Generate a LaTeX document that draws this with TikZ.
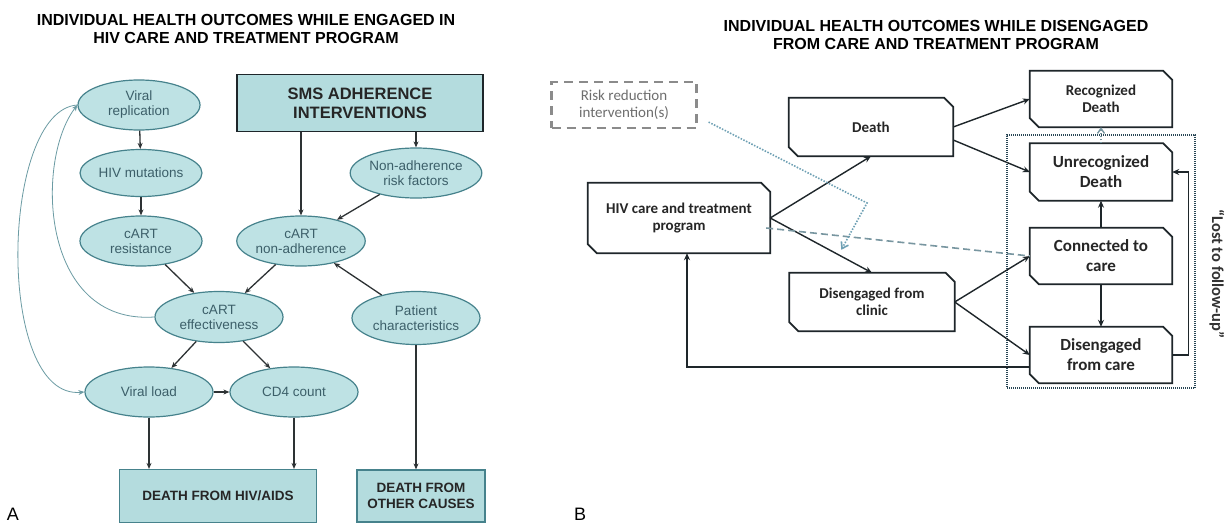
\documentclass[tikz,border=0pt]{standalone}
\usepackage{fontspec}
\setmainfont{Liberation Sans}
\newfontfamily\calfont{Carlito}
\usetikzlibrary{shapes.geometric,arrows.meta,calc}
\definecolor{tealfill}{RGB}{190,226,228}
\definecolor{boxfill}{RGB}{180,220,222}
\definecolor{tealline}{RGB}{70,130,140}
\definecolor{ellitext}{RGB}{60,95,105}
\definecolor{arrA}{RGB}{45,50,52}
\definecolor{bline}{RGB}{30,38,42}
\definecolor{dashc}{RGB}{120,150,160}
\definecolor{dotc}{RGB}{110,160,180}
\definecolor{frame}{RGB}{40,70,85}
\definecolor{riskc}{RGB}{110,110,110}
\newcommand\chamf[1]{\draw[bl] (#1.north west) -- ($(#1.north east)+(-9,0)$) -- ($(#1.north east)+(0,9)$) -- (#1.south east) -- ($(#1.south west)+(9,0)$) -- ($(#1.south west)+(0,-9)$) -- cycle;}
\tikzset{
  ell/.style={ellipse, draw=tealline, fill=tealfill, line width=1.2pt, minimum width=128pt, minimum height=50pt, inner sep=0pt, align=center, text=ellitext, font=\fontsize{13.5}{15}\selectfont},
  abox/.style={rectangle, fill=boxfill, draw=tealline, line width=1.2pt, align=center, inner sep=0pt, text=black!85, font=\bfseries\fontsize{13.5}{16}\selectfont},
  aarr/.style={draw=arrA, line width=1.3pt, -{Stealth[length=6pt,width=5pt]}},
  curv/.style={draw=tealline!80, line width=0.8pt, -{Stealth[length=6pt,width=5pt]}},
  bnode/.style={rectangle, inner sep=0pt, align=center, text=black!85, font=\calfont\bfseries\fontsize{15}{17}\selectfont},
  bignode/.style={bnode, font=\calfont\bfseries\fontsize{17}{20}\selectfont},
  bl/.style={draw=bline, line width=1.8pt, line join=miter},
  barr/.style={draw=bline, line width=1.4pt, -{Stealth[length=7pt,width=6pt]}},
  titl/.style={align=center, font=\bfseries\fontsize{16}{18.5}\selectfont},
}
\begin{document}
\begin{tikzpicture}[x=1pt,y=-1pt]
\useasboundingbox[fill=white] (0,0) rectangle (1226,527);

% ---------- Panel A ----------
\node[titl] (tA) at (246,29) {INDIVIDUAL HEALTH OUTCOMES WHILE ENGAGED IN\\HIV CARE AND TREATMENT PROGRAM};

\node[ell, minimum width=122pt] (vr) at (139,105) {Viral\\replication};
\node[ell, minimum width=122pt, minimum height=47pt] (hm) at (141,173) {HIV mutations};
\node[ell, minimum width=122pt] (cr) at (141,241) {cART\\resistance};
\node[abox, draw=bline, line width=1.8pt, minimum width=246pt, minimum height=57pt, font=\bfseries\fontsize{16.5}{19}\selectfont] (sms) at (360,103) {SMS ADHERENCE\\INTERVENTIONS};
\node[ell] (na) at (416,173) {Non-adherence\\risk factors};
\node[ell] (cna) at (301,241) {cART\\non-adherence};
\node[ell, minimum height=51pt] (ce) at (219,317) {cART\\effectiveness};
\node[ell, minimum height=53pt] (pc) at (416,318) {Patient\\characteristics};
\node[ell] (vl) at (149,392) {Viral load};
\node[ell] (cd) at (294,392) {CD4 count};
\node[abox, minimum width=197pt, minimum height=53pt] (dha) at (218,496) {DEATH FROM HIV/AIDS};
\node[abox, minimum width=128pt, minimum height=52pt] (doc) at (421,496) {DEATH FROM\\OTHER CAUSES};
\node[font=\fontsize{18}{20}\selectfont] (lA) at (13,514) {A};

\draw[aarr] (vr) -- (hm);
\draw[aarr] (hm) -- (cr);
\draw[aarr] (sms.south -| cna) -- (cna);
\draw[aarr] (sms.south -| na) -- (na);
\draw[aarr] (na) -- (cna);
\draw[aarr] (cr) -- (ce);
\draw[aarr] (cna) -- (ce);
\draw[aarr] (pc) -- (cna);
\draw[aarr] (ce) -- (vl);
\draw[aarr] (ce) -- (cd);
\draw[aarr] (vl) -- (cd);
\draw[aarr] (vl.south) -- (vl.south |- dha.north);
\draw[aarr] (cd.south) -- (cd.south |- dha.north);
\draw[aarr] (pc.south) -- (pc.south |- doc.north);
\draw[curv] (ce.west) .. controls (40,325) and (35,160) .. (vr.west);
\draw[curv] (vr.west) .. controls (0,110) and (-5,400) .. (vl.west);

% ---------- Panel B ----------
\node[titl] (tB) at (936,35) {INDIVIDUAL HEALTH OUTCOMES WHILE DISENGAGED\\FROM CARE AND TREATMENT PROGRAM};

\node[bnode, minimum width=145pt, minimum height=46pt, text=riskc, font=\calfont\fontsize{15}{17}\selectfont, draw=riskc!80, line width=2.2pt, dash pattern=on 9pt off 6pt] (rr) at (624,105) {Risk reduction\\intervention(s)};
\node[bnode, minimum width=164pt, minimum height=58pt] (de) at (871,127) {Death};
\node[bnode, minimum width=182pt, minimum height=70pt] (hiv) at (679,218) {HIV care and treatment\\program};
\node[bnode, minimum width=165pt, minimum height=58pt] (dcl) at (872,302) {Disengaged from\\clinic};
\node[bnode, minimum width=142pt, minimum height=56pt] (rd) at (1101,99) {Recognized\\Death};
\node[bignode, minimum width=142pt, minimum height=57pt] (ud) at (1101,172) {Unrecognized\\Death};
\node[bignode, minimum width=142pt, minimum height=56pt] (ctc) at (1101,256) {Connected to\\care};
\node[bignode, minimum width=142pt, minimum height=56pt] (dfc) at (1101,355) {Disengaged\\from care};
\chamf{de}\chamf{hiv}\chamf{dcl}\chamf{rd}\chamf{ud}\chamf{ctc}\chamf{dfc}

\node[draw=frame, line width=1.6pt, dash pattern=on 1pt off 1pt, minimum width=188pt, minimum height=253pt, inner sep=0pt] (lf) at (1101,261.5) {};
\node[rotate=-90, font=\calfont\bfseries\fontsize{16.5}{20}\selectfont, text=black!80] (lt) at (1217,274) {“Lost to follow-up”};
\node[font=\fontsize{18}{20}\selectfont] (lB) at (580,514) {B};

\draw[barr] (hiv.east) -- (de.south);
\draw[barr] (hiv.east) -- (dcl.north);
\draw[barr] (de.east) -- (rd.west);
\draw[barr] ($(de.east)+(0,13)$) -- (ud.west);
\draw[barr] (dcl.east) -- (ctc.west);
\draw[barr] (dcl.east) -- (dfc.west);
\draw[barr] (ctc.north) -- (ud.south);
\draw[barr] (ctc.south) -- (dfc.north);
\draw[barr] (dfc.east) -- ++(16,0) |- (ud.east);
\draw[barr, line width=1.2pt] ($(dfc.west)+(0,12)$) -| ($(hiv.south)+(8,0)$);
\draw[draw=dashc, line width=1.6pt, dash pattern=on 7pt off 4pt] ($(hiv.east)+(-4,10)$) -- (ctc.west);
\coordinate (bend) at (867,203);
\draw[draw=dotc, line width=1.6pt, dash pattern=on 1.5pt off 1.5pt, -{Straight Barb[length=6pt,width=8pt]}] ($(rr.south east)+(11,-7)$) -- (bend) -- ($(dcl.north west)+(52,-23)$);
\draw[draw=dashc, line width=1.4pt, dash pattern=on 1.5pt off 1.5pt, -{Straight Barb[length=5pt,width=7pt]}] (ud.north) -- (rd.south);
\end{tikzpicture}
\end{document}
